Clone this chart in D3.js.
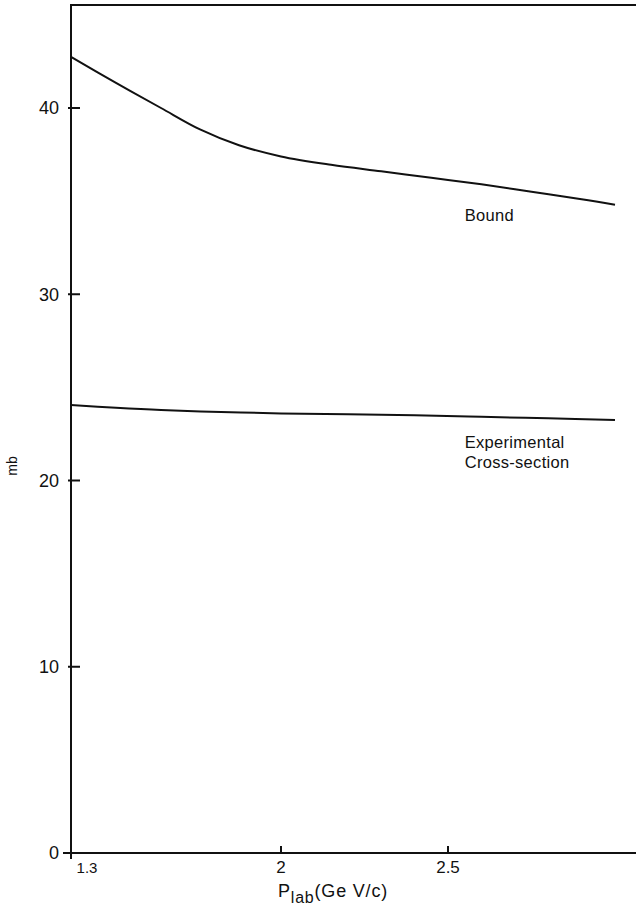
<!DOCTYPE html>
<html>
<head>
<meta charset="utf-8">
<script src="https://cdn.jsdelivr.net/npm/d3@7"></script>
<style>
  html, body { margin: 0; padding: 0; background: #fff; }
  svg { display: block; }
  text { font-family: "Liberation Sans", "DejaVu Sans", sans-serif; fill: #111; }
</style>
</head>
<body>
<svg id="chart" width="636" height="909"></svg>
<script>
// ---- data ----
const xTickValues = [1.3, 2, 2.5];
const xTickLabels = ["1.3", "2", "2.5"];
const yTickValues = [0, 10, 20, 30, 40];
const yTickLabels = ["0", "10", "20", "30", "40"];

const boundP = [1.3, 1.45, 1.6, 1.73, 1.86, 2.0, 2.15, 2.3, 2.45, 2.6, 2.75, 2.9, 3.0];
const boundMb = [42.75, 41.35, 40.0, 38.85, 38.0, 37.4, 36.95, 36.6, 36.25, 35.9, 35.5, 35.1, 34.8];

const expP = [1.3, 1.45, 1.6, 1.8, 2.0, 2.2, 2.4, 2.6, 2.8, 3.0];
const expMb = [24.05, 23.9, 23.78, 23.68, 23.6, 23.56, 23.5, 23.42, 23.34, 23.25];

const labels = [
  { text: "Bound", p: 2.55, mb: 33.93 },
  { text: "Experimental", p: 2.55, mb: 21.74 },
  { text: "Cross-section", p: 2.55, mb: 20.67 }
];

// ---- scales ----
const svg = d3.select("#chart");
const x = d3.scaleLinear().domain([1.3, 2, 2.5]).range([71, 281, 448]);
const y = d3.scaleLinear().domain([0, 40]).range([853, 108]);
const xMax = x.invert(636);
const yMax = y.invert(5);

const g = svg.append("g");

// frame: left axis, top line, bottom axis
g.append("line").attr("x1", x(1.3)).attr("x2", x(1.3)).attr("y1", y(yMax)).attr("y2", y(0) + 6)
  .attr("stroke", "#111").attr("stroke-width", 2);
g.append("line").attr("x1", x(1.3) - 1).attr("x2", x(xMax)).attr("y1", y(yMax)).attr("y2", y(yMax))
  .attr("stroke", "#111").attr("stroke-width", 2.2);
g.append("line").attr("x1", x(1.3) - 8).attr("x2", x(xMax)).attr("y1", y(0)).attr("y2", y(0))
  .attr("stroke", "#111").attr("stroke-width", 2);

// y ticks (pointing inward)
yTickValues.forEach((v, i) => {
  if (v !== 0) {
    g.append("line").attr("x1", x(1.3) - 3).attr("x2", x(1.3) + 9).attr("y1", y(v)).attr("y2", y(v))
      .attr("stroke", "#111").attr("stroke-width", 2);
  }
  g.append("text").attr("x", 59).attr("y", y(v)).attr("dy", "0.36em")
    .attr("text-anchor", "end").attr("font-size", 18).text(yTickLabels[i]);
});

// x ticks (pointing up)
xTickValues.forEach((v, i) => {
  if (v !== 1.3) {
    g.append("line").attr("x1", x(v)).attr("x2", x(v)).attr("y1", y(0) - 7).attr("y2", y(0))
      .attr("stroke", "#111").attr("stroke-width", 2);
  }
  const tx = v === 1.3 ? x(v) + 16 : x(v);
  g.append("text").attr("x", tx).attr("y", 873).attr("text-anchor", "middle")
    .attr("font-size", v === 1.3 ? 15 : 17).text(xTickLabels[i]);
});

// axis titles
const xt = g.append("text").attr("x", 278).attr("y", 897).attr("font-size", 18)
  .attr("letter-spacing", 0.8);
xt.append("tspan").text("P");
xt.append("tspan").attr("dy", 6).attr("font-size", 16).text("lab");
xt.append("tspan").attr("dy", -6).text("(Ge V/c)");

g.append("text").attr("transform", "translate(17,466) rotate(-90)")
  .attr("text-anchor", "middle").attr("font-size", 14).text("mb");

// curves
const line = d3.line().x(d => x(d[0])).y(d => y(d[1])).curve(d3.curveCatmullRom.alpha(0.5));
g.append("path").datum(boundP.map((p, i) => [p, boundMb[i]]))
  .attr("d", line).attr("fill", "none").attr("stroke", "#111").attr("stroke-width", 2);
g.append("path").datum(expP.map((p, i) => [p, expMb[i]]))
  .attr("d", line).attr("fill", "none").attr("stroke", "#111").attr("stroke-width", 2);

// curve labels
labels.forEach(l => {
  g.append("text").attr("x", x(l.p)).attr("y", y(l.mb)).attr("font-size", 16.5)
    .attr("letter-spacing", 0.3).text(l.text);
});
</script>
</body>
</html>
